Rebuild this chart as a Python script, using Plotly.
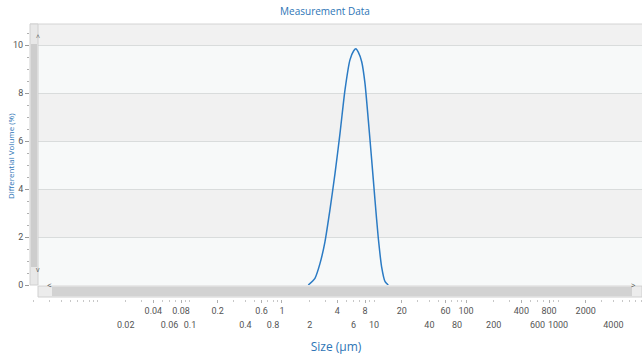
import plotly.graph_objects as go

# ---- data ----
size_um = [1.93, 2.28, 2.59, 2.93, 3.32, 3.77, 4.27, 4.84, 5.48, 6.0, 6.35,
           6.75, 7.35, 7.98, 8.67, 9.44, 10.25, 11.1, 12.1, 13.2, 14.3]
diff_volume = [0.0, 0.28, 0.90, 1.80, 3.13, 4.65, 6.32, 8.13, 9.38, 9.75, 9.84,
               9.70, 9.30, 8.40, 6.88, 5.21, 3.54, 2.01, 0.76, 0.14, 0.0]

tick_row1 = [0.04, 0.08, 0.2, 0.6, 1, 4, 8, 20, 60, 100, 400, 800, 2000]
tick_row2 = [0.02, 0.06, 0.1, 0.4, 0.8, 2, 6, 10, 40, 80, 200, 600, 1000, 4000]
y_ticks = [0, 2, 4, 6, 8, 10]

def fmt(v):
    return "%g" % v

minor_vals = [m * 10 ** k for k in range(-3, 4) for m in range(1, 10)]

W, H = 642, 356
L, R, T, B = 30, 0, 24, 57
PW, PH = W - L - R, H - T - B
def px(x):
    return (x - L) / PW
def py(y):
    return (H - B - y) / PH

ydom0 = py(285)
XRANGE = [-2.739, 3.913]
TICKFONT = dict(family="Roboto, sans-serif", size=9, color="#555555")

fig = go.Figure()
fig.add_trace(go.Scatter(
    x=size_um, y=diff_volume, mode="lines",
    line=dict(color="#2b7bc4", width=1.5, shape="spline", smoothing=0.6),
    hoverinfo="skip", showlegend=False,
))
# carrier for the second label row axis (not visible)
fig.add_trace(go.Scatter(
    x=[size_um[0]], y=[diff_volume[0]], xaxis="x2", mode="markers",
    marker=dict(opacity=0, size=1), hoverinfo="skip", showlegend=False,
))

shapes = []
for y0, y1 in [(2, 4), (6, 8), (10, 10.875)]:
    shapes.append(dict(type="rect", xref="paper", yref="y", x0=0, x1=1, y0=y0, y1=y1,
                       fillcolor="#f1f1f1", line=dict(width=0), layer="below"))
shapes.append(dict(type="line", xref="paper", yref="paper", x0=0, x1=1, y0=1, y1=1,
                   line=dict(color="#d4d4d4", width=1)))
# vertical scrollbar
shapes.append(dict(type="rect", xref="paper", yref="paper", x0=px(30), x1=px(38),
                   y0=py(285), y1=py(24), fillcolor="#e8e8e8",
                   line=dict(color="#d0d0d0", width=1)))
shapes.append(dict(type="rect", xref="paper", yref="paper", x0=px(31), x1=px(37),
                   y0=py(267), y1=py(44), fillcolor="#cdcdcd", line=dict(width=0)))
# horizontal scrollbar
shapes.append(dict(type="rect", xref="paper", yref="paper", x0=px(38), x1=px(642),
                   y0=py(297), y1=py(286), fillcolor="#ececec",
                   line=dict(color="#d0d0d0", width=1)))
shapes.append(dict(type="rect", xref="paper", yref="paper", x0=px(52), x1=px(632),
                   y0=py(296), y1=py(287), fillcolor="#d2d2d2", line=dict(width=0)))

annotations = [
    dict(text="^", x=px(34), y=py(31), xref="paper", yref="paper", showarrow=False,
         font=dict(size=7, color="#555555")),
    dict(text="v", x=px(34), y=py(276), xref="paper", yref="paper", showarrow=False,
         font=dict(size=7, color="#555555")),
    dict(text="<", x=px(45), y=py(291.5), xref="paper", yref="paper", showarrow=False,
         font=dict(size=8, color="#444444")),
    dict(text=">", x=px(638), y=py(291.5), xref="paper", yref="paper", showarrow=False,
         font=dict(size=8, color="#444444")),
    dict(text="Differential Volume (%)", x=px(10), y=py(156), xref="paper", yref="paper",
         xanchor="center", yanchor="middle",
         showarrow=False, textangle=-90, font=dict(size=8, color="#2e75b6")),
]

fig.update_layout(
    width=W, height=H,
    margin=dict(l=L, r=R, t=T, b=B),
    paper_bgcolor="white",
    plot_bgcolor="#f7f9f9",
    font=dict(family="Open Sans, sans-serif", color="#555555"),
    title=dict(text="Measurement Data", x=325 / W, xanchor="center", y=1 - 11 / H,
               yanchor="middle", font=dict(size=10, color="#2e75b6")),
    shapes=shapes,
    annotations=annotations,
    xaxis=dict(
        type="log", range=XRANGE,
        tickvals=tick_row1, ticktext=[fmt(v) for v in tick_row1],
        ticks="outside", ticklen=3, tickcolor="#b0b0b0",
        minor=dict(tickvals=minor_vals, ticks="outside", ticklen=2, tickcolor="#c8c8c8"),
        tickfont=TICKFONT,
        showgrid=False, zeroline=False, showline=False,
        anchor="free", position=0,
    ),
    xaxis2=dict(
        type="log", range=XRANGE, overlaying="x", side="bottom",
        tickvals=tick_row2, ticktext=[fmt(v) for v in tick_row2],
        ticks="", ticklabelstandoff=19,
        tickfont=TICKFONT,
        showgrid=False, zeroline=False, showline=False,
        anchor="free", position=0,
        title=dict(text="Size (μm)", font=dict(size=12, color="#2e75b6"), standoff=13),
    ),
    yaxis=dict(
        range=[0, 10.875], domain=[ydom0, 1],
        tickvals=y_ticks,
        ticks="outside", ticklen=4, tickcolor="#9a9a9a",
        minor=dict(dtick=0.5, ticks="outside", ticklen=2, tickcolor="#b0b0b0"),
        tickfont=TICKFONT,
        showgrid=True, gridcolor="#d9dcdc", gridwidth=1,
        zeroline=False, showline=False,
    ),
)

fig.write_html("out.html")
